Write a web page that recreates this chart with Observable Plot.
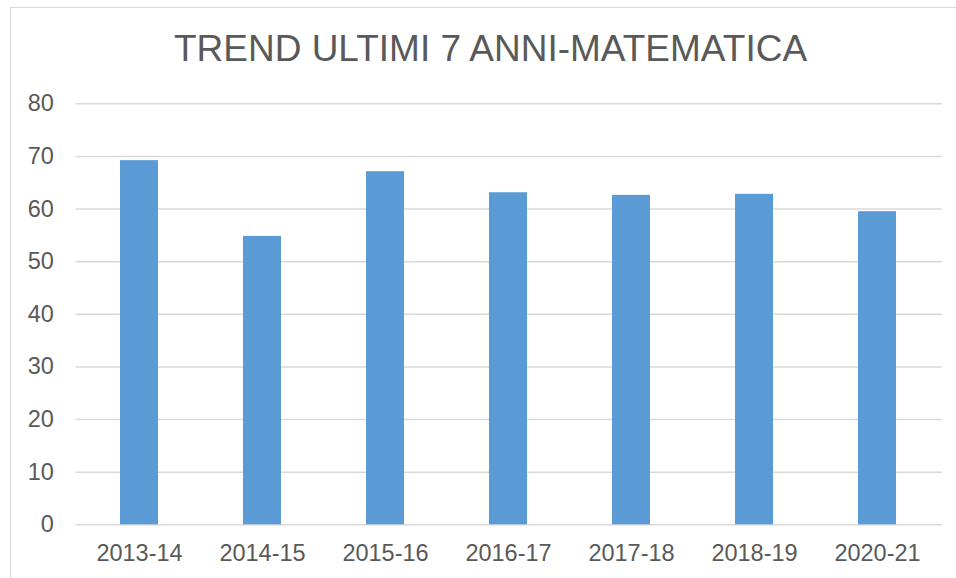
<!DOCTYPE html>
<html>
<head>
<meta charset="utf-8">
<script src="https://cdn.jsdelivr.net/npm/d3@7"></script>
<script src="https://cdn.jsdelivr.net/npm/@observablehq/plot@0.6"></script>
<style>
  html, body { margin: 0; padding: 0; background: #fff; }
  #wrap { position: relative; width: 956px; height: 578px; overflow: hidden; background: #fff;
          font-family: "Liberation Sans", Arial, sans-serif; }
  #frame { position: absolute; left: 10px; top: 7px; width: 1000px; height: 700px;
           border: 1.5px solid #d9d9d9; box-sizing: border-box; pointer-events: none; }
  #titlebox { position: relative; height: 80px; }
  #title { position: absolute; left: 0; width: 981px; top: 30.4px; text-align: center;
           font-size: 37px; line-height: 37px; color: #595959; white-space: nowrap; }
  #chart { position: relative; }
</style>
</head>
<body>
<div id="wrap">
  <div id="frame"></div>
  <div id="titlebox"><div id="title">TREND ULTIMI 7 ANNI-MATEMATICA</div></div>
  <div id="chart"></div>
</div>
<script>
const categories = ["2013-14", "2014-15", "2015-16", "2016-17", "2017-18", "2018-19", "2020-21"];
const values = [69.2, 54.8, 67.1, 63.1, 62.6, 62.8, 59.5];
const yTicks = [0, 10, 20, 30, 40, 50, 60, 70, 80];

const data = categories.map((c, i) => ({ anno: c, valore: values[i] }));

const chart = Plot.plot({
  width: 956,
  height: 498,
  marginLeft: 75.3,
  marginRight: 14.3,
  marginTop: 23.3,
  marginBottom: 53.7,
  style: { fontFamily: '"Liberation Sans", Arial, sans-serif', fontSize: "23.5px", color: "#595959", background: "transparent" },
  x: { domain: categories, paddingInner: 0.69, paddingOuter: 0.345, label: null },
  y: { domain: [0, 80], label: null },
  marks: [
    Plot.ruleY(yTicks, { stroke: "#d9d9d9", strokeWidth: 1.4 }),
    Plot.barY(data, { x: "anno", y: "valore", fill: "#5b9bd5" }),
    Plot.axisY({ ticks: yTicks, tickSize: 0, tickPadding: 22, label: null, fill: "#595959", fontSize: 23.5 }),
    Plot.axisX({ tickSize: 0, tickPadding: 20, label: null, fill: "#595959", fontSize: 23.5 })
  ]
});
document.getElementById("chart").appendChild(chart);
</script>
</body>
</html>
